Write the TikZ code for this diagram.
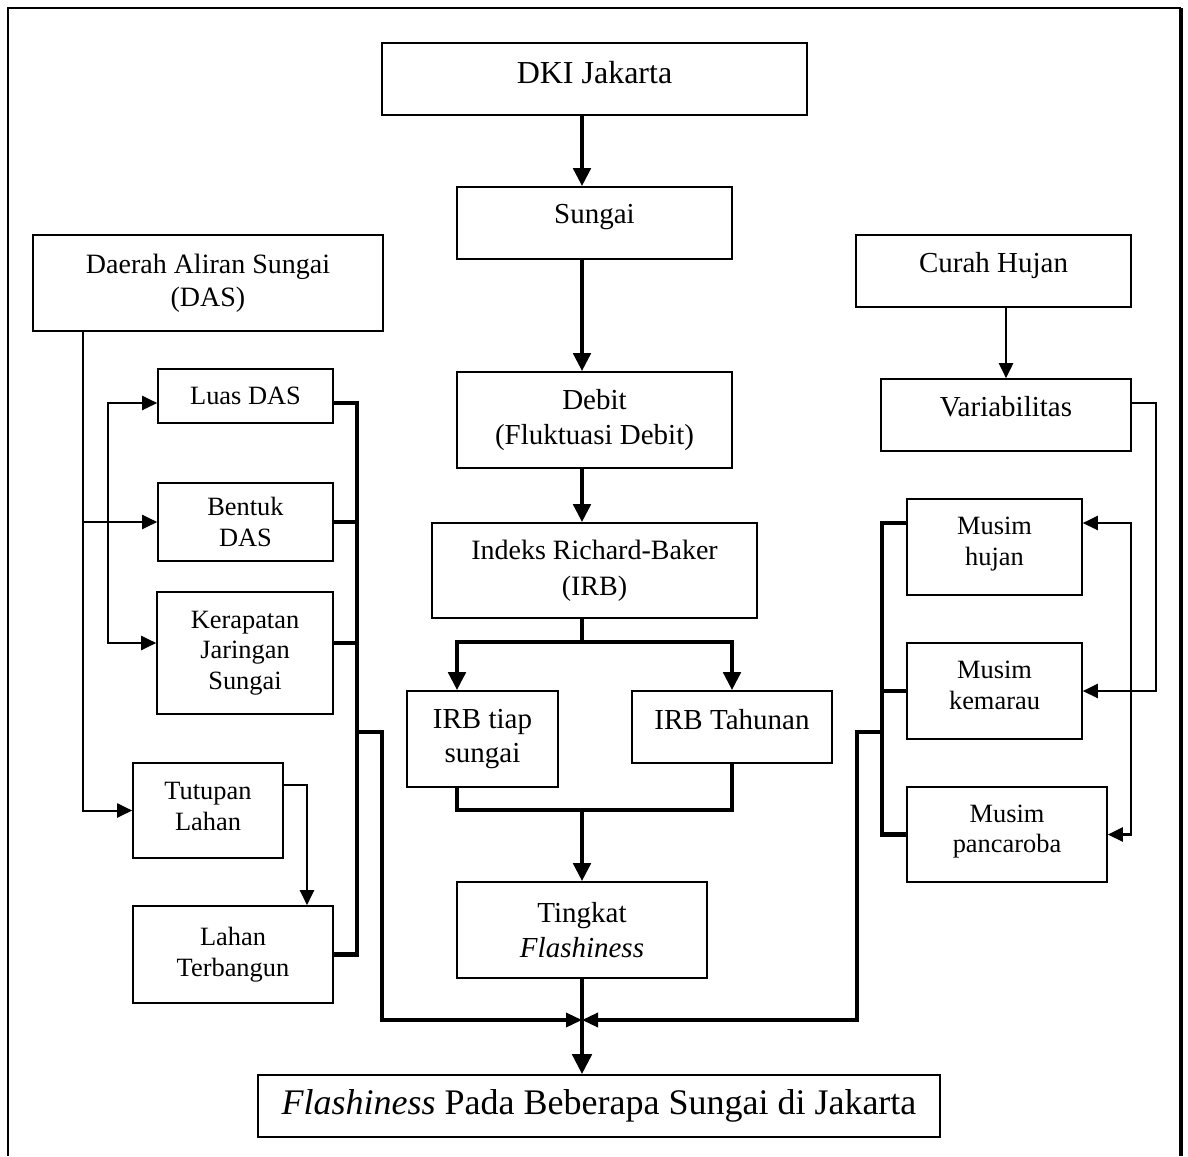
\documentclass[tikz,border=0pt]{standalone}
\usepackage{fontspec}
\setmainfont{Liberation Serif}
\usetikzlibrary{arrows.meta,fit,calc}
\begin{document}
\begin{tikzpicture}[x=0.5pt,y=-0.5pt,
  box/.style={draw=black, line width=0.8pt, inner sep=0pt},
  bigf/.style={font=\fontsize{14.5}{17.5}\selectfont, align=center},
  dkif/.style={font=\fontsize{16}{19}\selectfont, align=center},
  smallf/.style={font=\fontsize{13.2}{15.4}\selectfont, align=center},
  finalf/.style={font=\fontsize{18}{21}\selectfont, align=center},
  thk/.style={line width=2.3pt, draw=black},
  thn/.style={line width=1pt, draw=black},
  med/.style={line width=1.3pt, draw=black},
  bot/.style={line width=1.7pt, draw=black},
  thkarr/.style={thk, -{Triangle[length=9pt,width=8.5pt]}},
  bigarr/.style={thk, -{Triangle[length=10pt,width=9.5pt]}},
  thnarr/.style={thn, -{Triangle[length=7.5pt,width=7pt]}},
  medarr/.style={med, -{Triangle[length=7.5pt,width=7pt]}},
  botarr/.style={bot, -{Triangle[length=8pt,width=7pt]}},
  frame/.style={line width=1pt, draw=black}
]
\useasboundingbox (0,0) rectangle (1188,1156);

% outer frame
\coordinate (fBL) at (8,1156);
\coordinate (fTL) at (8,8);
\coordinate (fTR) at (1181,8);
\coordinate (fBR) at (1181,1156);
\draw[frame] (fBL) -- (fTL) -- (fTR);
\draw[frame, line width=1.6pt] (fTR) -- (fBR);

% ---------- boxes ----------
\node[box, fit={(382,43) (807,115)}, label={[dkif,yshift=3pt]center:DKI Jakarta}] (dki) {};
\node[box, fit={(457,187) (732,259)}, label={[bigf,yshift=3pt]center:Sungai}] (sungai) {};
\node[box, fit={(457,372) (732,468)}, label={[bigf]center:Debit\\(Fluktuasi Debit)}] (debit) {};
\node[box, fit={(432,523) (757,618)}, label={[bigf,font=\fontsize{14}{18}\selectfont]center:Indeks Richard-Baker\\(IRB)}] (irb) {};
\node[box, fit={(407,691) (558,787)}, label={[bigf,font=\fontsize{14.5}{17}\selectfont]center:IRB tiap\\sungai}] (irbtiap) {};
\node[box, fit={(632,691) (832,763)}, label={[bigf,yshift=3.5pt]center:IRB Tahunan}] (irbth) {};
\node[box, fit={(457,882) (707,978)}, label={[bigf]center:Tingkat\\\textit{Flashiness}}] (tingkat) {};
\node[box, fit={(258,1075) (940,1137)}, label={[finalf]center:\textit{Flashiness} Pada Beberapa Sungai di Jakarta}] (final) {};

\node[box, fit={(33,235) (383,331)}, label={[bigf,font=\fontsize{14}{16.5}\selectfont]center:Daerah Aliran Sungai\\(DAS)}] (das) {};
\node[box, fit={(158,369) (333,423)}, label={[smallf]center:Luas DAS}] (luas) {};
\node[box, fit={(158,483) (333,561)}, label={[smallf]center:Bentuk\\DAS}] (bentuk) {};
\node[box, fit={(157,592) (333,714)}, label={[smallf]center:Kerapatan\\Jaringan\\Sungai}] (kerap) {};
\node[box, fit={(133,763) (283,858)}, label={[smallf,yshift=2pt]center:Tutupan\\Lahan}] (tutupan) {};
\node[box, fit={(133,906) (333,1003)}, label={[smallf]center:Lahan\\Terbangun}] (lahan) {};

\node[box, fit={(856,235) (1131,307)}, label={[bigf,yshift=2.5pt]center:Curah Hujan}] (curah) {};
\node[box, fit={(881,379) (1131,451)}, label={[bigf,yshift=4pt]center:Variabilitas}] (var) {};
\node[box, fit={(907,499) (1082,595)}, label={[smallf,yshift=1.5pt]center:Musim\\hujan}] (hujan) {};
\node[box, fit={(907,643) (1082,739)}, label={[smallf,yshift=3pt]center:Musim\\kemarau}] (kemarau) {};
\node[box, fit={(907,787) (1107,882)}, label={[smallf,yshift=1.5pt]center:Musim\\pancaroba}] (pancar) {};

% ---------- helper coordinates ----------
\coordinate (cx) at (582,0);
\coordinate (ySp) at (0,642);
\coordinate (yM) at (0,810);
\coordinate (sL) at (457,0);
\coordinate (By) at (0,1020);
\coordinate (Lb) at (83,0);
\coordinate (Li) at (108,0);
\coordinate (Lr) at (357,0);
\coordinate (Lo) at (382,0);
\coordinate (Lt) at (307,0);
\coordinate (yA) at (0,403);
\coordinate (yB) at (0,523);
\coordinate (yC) at (0,643);
\coordinate (yE) at (0,732);
\coordinate (yF) at (0,785);
\coordinate (Ro) at (1156,0);
\coordinate (Ri) at (1131,0);
\coordinate (Rl) at (882,0);
\coordinate (Rb) at (857,0);

% ---------- center column ----------
\draw[thkarr] (cx |- dki.south) -- (cx |- sungai.north);
\draw[thkarr] (cx |- sungai.south) -- (cx |- debit.north);
\draw[thkarr] (cx |- debit.south) -- (cx |- irb.north);
\draw[thk] (cx |- irb.south) -- (cx |- ySp);
\draw[thkarr] (cx |- ySp) -| (sL |- irbtiap.north);
\draw[thkarr] (cx |- ySp) -| (irbth.north);
\draw[thk] (sL |- irbtiap.south) |- (cx |- yM);
\draw[thk] (irbth.south) |- (cx |- yM);
\draw[thkarr] (cx |- yM) -- (tingkat.north);
\draw[bigarr] (tingkat.south) -- (cx |- final.north);

% ---------- left side ----------
\draw[thnarr] (Lb |- das.south) |- (tutupan.west);
\draw[thnarr] (Lb |- bentuk.west) -- (bentuk.west);
\draw[thnarr] (Li |- bentuk.west) |- (luas.west |- yA);
\draw[thnarr] (Li |- bentuk.west) |- (kerap.west |- yC);
\draw[thk] (luas.east |- yA) -| (Lr |- lahan.east) -- (lahan.east);
\draw[thk] (bentuk.east) -- (Lr |- bentuk.east);
\draw[thk] (kerap.east |- yC) -- (Lr |- yC);
\draw[thnarr] (tutupan.east |- yF) -| (Lt |- lahan.north);
\draw[botarr] (Lr |- yE) -| (Lo |- By) -- (cx |- By);

% ---------- right side ----------
\draw[medarr] (var.north |- curah.south) -- (var.north);
\draw[medarr] (var.east |- yA) -| (Ro |- kemarau.east) -- (kemarau.east);
\draw[medarr] (Ri |- kemarau.east) |- (hujan.east |- yB);
\draw[medarr] (Ri |- kemarau.east) |- (pancar.east);
\draw[thk] (hujan.west |- yB) -| (Rl |- pancar.west) -- (pancar.west);
\draw[thk] (kemarau.west) -- (Rl |- kemarau.west);
\draw[botarr] (Rl |- yE) -| (Rb |- By) -- (cx |- By);

\end{tikzpicture}
\end{document}
